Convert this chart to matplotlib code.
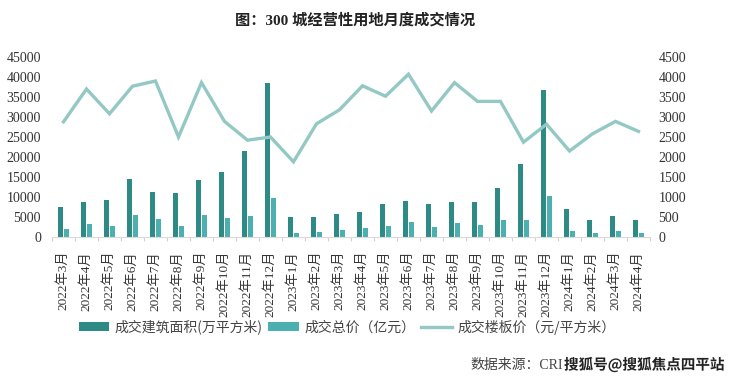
import matplotlib
matplotlib.use("Agg")
import matplotlib.pyplot as plt
import matplotlib.patheffects as pe
import numpy as np

months = ["2022年3月", "2022年4月", "2022年5月", "2022年6月", "2022年7月", "2022年8月",
          "2022年9月", "2022年10月", "2022年11月", "2022年12月", "2023年1月", "2023年2月",
          "2023年3月", "2023年4月", "2023年5月", "2023年6月", "2023年7月", "2023年8月",
          "2023年9月", "2023年10月", "2023年11月", "2023年12月", "2024年1月", "2024年2月",
          "2024年3月", "2024年4月"]
area = [7500, 8700, 9300, 14600, 11250, 11000, 14170, 16330, 21500, 38600, 5080, 4920,
        5670, 6170, 8170, 9080, 8170, 8670, 8670, 12170, 18170, 36670, 7000, 4170, 5170, 4170]
total = [2080, 3250, 2830, 5500, 4420, 2750, 5500, 4670, 5170, 9670, 920, 1330,
         1830, 2330, 2830, 3670, 2580, 3420, 3000, 4170, 4330, 10250, 1420, 1000, 1420, 1000]
price = [2880, 3700, 3080, 3770, 3900, 2500, 3860, 2890, 2420, 2500, 1880, 2830,
         3180, 3780, 3520, 4070, 3150, 3860, 3390, 3390, 2370, 2820, 2150, 2580, 2890, 2640]
left_ticks = list(range(0, 45001, 5000))
right_ticks = list(range(0, 4501, 500))

c_dark = "#2E8A84"
c_light = "#4DB0B0"
c_line = "#93C8C5"

serif_cjk = ["Liberation Serif", "Noto Sans CJK SC"]

fig = plt.figure(figsize=(7.4, 3.8), dpi=100)
ax = fig.add_axes([52/740, 1-237/380, 598/740, 180/380])
ax2 = ax.twinx()

x = np.arange(len(months))
w = 0.22
b1 = ax.bar(x - 0.143, area, width=w, color=c_dark, label="成交建筑面积(万平方米)", zorder=2)
b2 = ax.bar(x + 0.143, total, width=w, color=c_light, label="成交总价（亿元）", zorder=2)
ln, = ax2.plot(x, price, color=c_line, lw=2.4, label="成交楼板价（元/平方米）",
               solid_joinstyle="miter", zorder=3)

ax.set_xlim(-0.5, len(months) - 0.5)
ax.set_ylim(0, 45000)
ax2.set_ylim(0, 4500)
ax.set_yticks(left_ticks)
ax2.set_yticks(right_ticks)
ax.set_yticklabels([str(v) for v in left_ticks], family="Liberation Serif", fontsize=10, color="#333333")
ax2.set_yticklabels([str(v) for v in right_ticks], family="Liberation Serif", fontsize=10, color="#333333")
ax.tick_params(axis="y", length=0, pad=8)
ax2.tick_params(axis="y", length=0, pad=6)

ax.set_xticks(x)
ax.set_xticklabels(months, rotation=90, fontsize=9.5, color="#333333")
for t in ax.get_xticklabels():
    t.set_family(serif_cjk)
ax.tick_params(axis="x", length=0, pad=10)
ax.set_xticks(np.arange(-0.5, len(months), 1), minor=True)
ax.tick_params(axis="x", which="minor", length=3, color="#E5C9C9", width=0.8)

for a in (ax, ax2):
    for s in ["top", "left", "right"]:
        a.spines[s].set_visible(False)
    a.spines["bottom"].set_color("#D9D9D9")
    a.spines["bottom"].set_linewidth(0.8)
ax2.spines["bottom"].set_visible(False)

fig.text(0.48, 1-20/380, "图：300 城经营性用地月度成交情况", ha="center", va="center",
         fontsize=11, fontweight="bold", family=serif_cjk, color="#222222")

leg = fig.legend(handles=[b1, b2, ln], loc="center", bbox_to_anchor=(347/740, 1-327/380),
                 ncol=3, frameon=False, handlelength=2.2, handleheight=0.6,
                 columnspacing=0.4, handletextpad=0.4,
                 prop={"family": ["Noto Sans CJK SC"], "size": 10})
for t in leg.get_texts():
    t.set_color("#444444")

fig.text(470/740, 1-365/380, "数据来源：CRI", ha="left", va="center", fontsize=10,
         family=serif_cjk, color="#444444")
wm = fig.text(564/740, 1-365/380, "搜狐号@搜狐焦点四平站", ha="left", va="center", fontsize=10.5,
              fontweight="bold", family=["Noto Sans CJK SC"], color="#222222")
wm.set_path_effects([pe.withStroke(linewidth=2, foreground="white")])

fig.savefig("out.png", dpi=100)
